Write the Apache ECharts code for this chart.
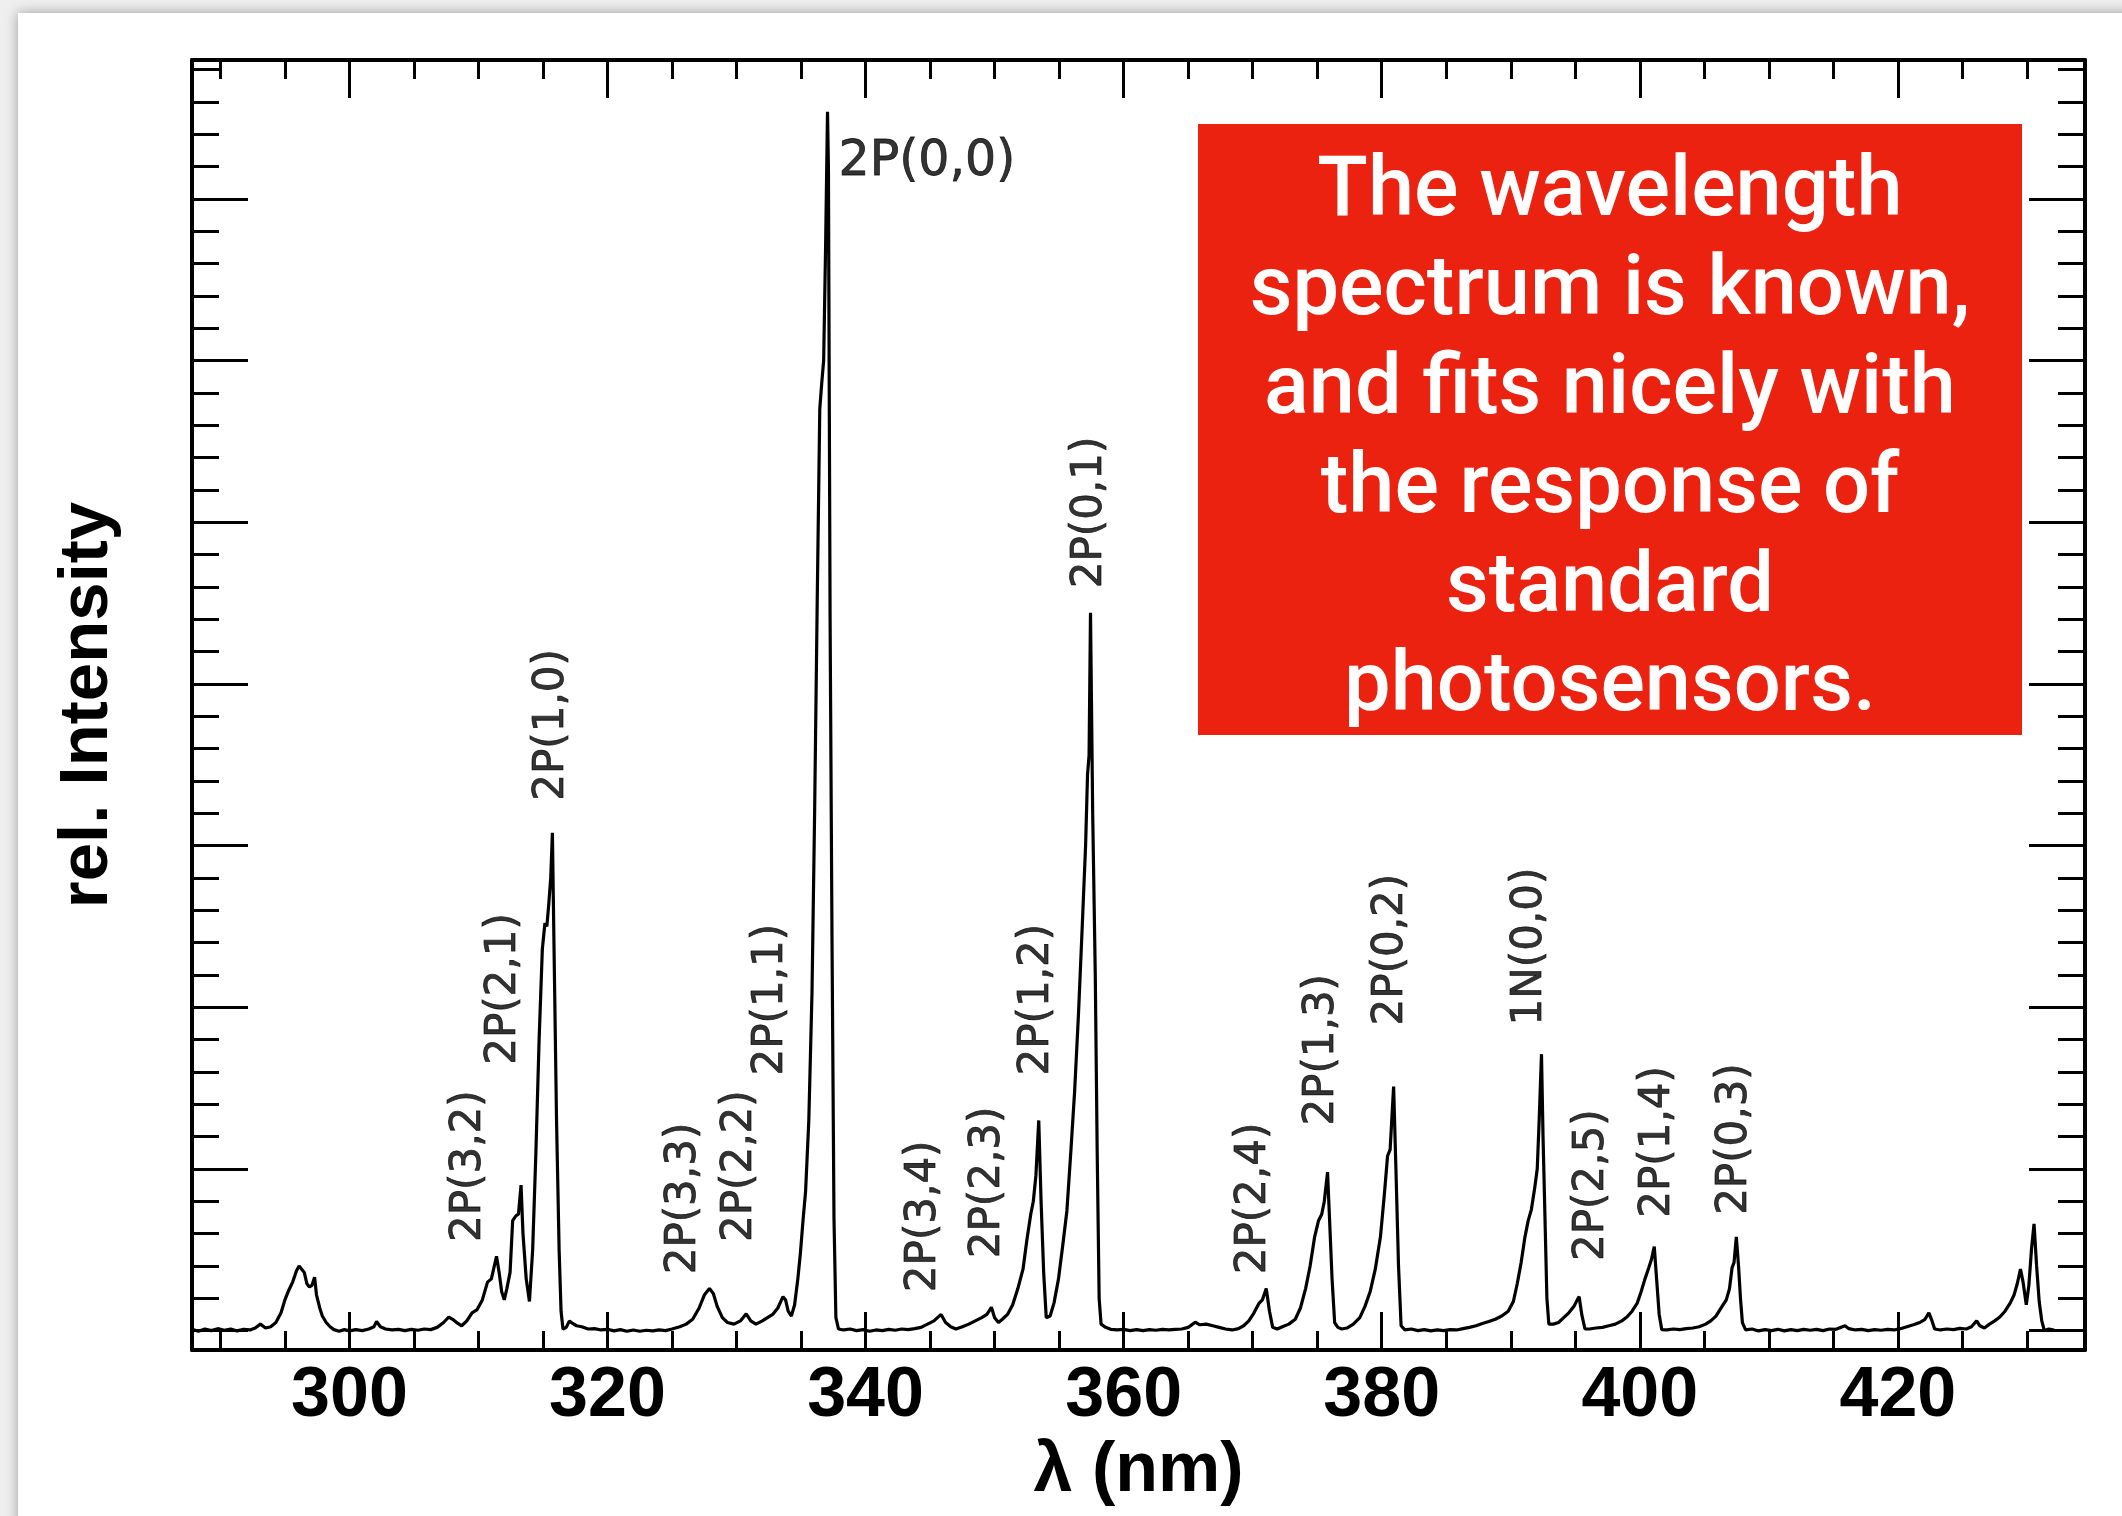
<!DOCTYPE html>
<html>
<head>
<meta charset="utf-8">
<title>N2 emission spectrum</title>
<script src="https://cdn.jsdelivr.net/npm/echarts@6/dist/echarts.min.js"></script>
<style>
  html, body { margin: 0; padding: 0; background: #efefef; overflow: hidden; }
  #sheet { position: absolute; left: 18px; top: 13px; width: 2200px; height: 1600px; background: #fff; box-shadow: 0 0 12px rgba(0,0,0,0.35); }
  #chart { position: absolute; left: 0; top: 0; width: 2122px; height: 1516px; }
</style>
</head>
<body>
<div id="sheet"></div>
<div id="chart"></div>
<script>
// spectrum: wavelength (nm) and relative intensity (1 = one minor tick)
const wavelength = [
  287.8, 288.3, 288.8, 289.3, 289.8, 290.3, 290.8, 291.3, 291.8, 292.3, 292.7, 293.1, 293.5, 293.9, 294.3, 294.7,
  295.0, 295.3, 295.6, 295.9, 296.1, 296.3, 296.5, 296.7, 296.9, 297.1, 297.3, 297.45, 297.7, 297.9, 298.2, 298.5,
  298.8, 299.2, 299.6, 300.0, 300.5, 301.0, 301.5, 301.9, 302.1, 302.4, 302.8, 303.3, 303.8, 304.3, 304.8, 305.3,
  305.8, 306.3, 306.8, 307.3, 307.7, 308.0, 308.4, 308.7, 309.1, 309.5, 309.9, 310.3, 310.7, 311.0, 311.4, 311.6,
  311.8, 312.0, 312.2, 312.45, 312.65, 312.9, 313.1, 313.3, 313.45, 313.7, 313.95, 314.2, 314.45, 314.7, 314.95, 315.15,
  315.3, 315.45, 315.6, 315.73, 315.85, 316.05, 316.25, 316.4, 316.55, 316.8, 317.05, 317.3, 317.6, 318.0, 318.5, 319.0,
  319.5, 320.0, 320.5, 321.0, 321.5, 322.0, 322.5, 323.0, 323.5, 324.0, 324.5, 325.0, 325.6, 326.1, 326.6, 327.1,
  327.5, 327.9, 328.2, 328.5, 328.9, 329.3, 329.8, 330.3, 330.75, 331.1, 331.5, 332.0, 332.4, 332.8, 333.2, 333.6,
  333.8, 334.0, 334.25, 334.5, 334.75, 334.95, 335.15, 335.35, 335.6, 335.85, 336.05, 336.25, 336.45, 336.6, 336.75, 336.9,
  337.05, 337.12, 337.25, 337.4, 337.55, 337.7, 337.9, 338.3, 338.8, 339.3, 339.8, 340.3, 340.8, 341.3, 341.8, 342.3,
  342.8, 343.3, 343.8, 344.3, 344.8, 345.3, 345.85, 346.2, 346.6, 347.0, 347.5, 348.0, 348.5, 349.0, 349.4, 349.75,
  350.0, 350.3, 350.6, 351.0, 351.4, 351.8, 352.2, 352.5, 352.8, 353.0, 353.2, 353.42, 353.6, 353.8, 354.0, 354.3,
  354.6, 354.95, 355.3, 355.6, 355.9, 356.2, 356.5, 356.8, 357.05, 357.2, 357.32, 357.43, 357.6, 357.8, 357.95, 358.1,
  358.25, 358.6, 359.0, 359.5, 360.0, 360.5, 361.0, 361.5, 362.0, 362.5, 363.0, 363.5, 364.0, 364.5, 365.0, 365.55,
  365.9, 366.4, 366.9, 367.4, 367.9, 368.4, 368.9, 369.3, 369.7, 370.1, 370.5, 370.75, 371.05, 371.3, 371.55, 371.9,
  372.3, 372.8, 373.3, 373.7, 374.1, 374.45, 374.8, 375.1, 375.35, 375.55, 375.8, 375.95, 376.15, 376.35, 376.6, 376.9,
  377.3, 377.8, 378.3, 378.7, 379.1, 379.5, 379.9, 380.2, 380.45, 380.65, 380.92, 381.1, 381.3, 381.5, 381.8, 382.3,
  382.8, 383.3, 383.8, 384.3, 384.8, 385.3, 385.8, 386.3, 386.8, 387.3, 387.8, 388.3, 388.8, 389.3, 389.8, 390.2,
  390.5, 390.8, 391.1, 391.35, 391.6, 391.85, 392.05, 392.2, 392.38, 392.5, 392.65, 392.8, 392.95, 393.3, 393.7, 394.1,
  394.5, 394.9, 395.15, 395.3, 395.5, 395.75, 396.1, 396.6, 397.1, 397.6, 398.1, 398.6, 399.0, 399.4, 399.8, 400.1,
  400.4, 400.7, 400.9, 401.12, 401.3, 401.5, 401.7, 402.1, 402.6, 403.1, 403.6, 404.1, 404.6, 405.1, 405.5, 405.9,
  406.3, 406.7, 406.95, 407.15, 407.3, 407.48, 407.65, 407.8, 407.95, 408.2, 408.7, 409.2, 409.7, 410.2, 410.7, 411.2,
  411.7, 412.2, 412.7, 413.2, 413.7, 414.2, 414.7, 415.2, 415.7, 415.9, 416.2, 416.7, 417.2, 417.7, 418.2, 418.7,
  419.2, 419.7, 420.2, 420.7, 421.2, 421.7, 422.1, 422.4, 422.6, 422.85, 423.3, 423.8, 424.3, 424.8, 425.3, 425.7,
  426.1, 426.35, 426.7, 427.1, 427.5, 427.9, 428.3, 428.7, 429.0, 429.25, 429.5, 429.7, 429.95, 430.15, 430.35, 430.55,
  430.75, 430.95, 431.15, 431.35, 431.7, 432.1
];
const intensity = [
  0.04, -0.02, 0.05, 0.0, 0.06, 0.01, 0.05, -0.01, 0.04, 0.02, 0.08, 0.2, 0.08, 0.12, 0.25, 0.55,
  0.95, 1.25, 1.5, 1.85, 2.0, 1.9, 1.8, 1.45, 1.35, 1.4, 1.65, 1.1, 0.7, 0.45, 0.25, 0.12,
  0.03, -0.02, 0.03, -0.01, 0.03, 0.0, 0.05, 0.12, 0.28, 0.12, 0.05, 0.02, 0.04, 0.0, 0.04, 0.01,
  0.05, 0.03, 0.1, 0.25, 0.42, 0.35, 0.22, 0.15, 0.3, 0.55, 0.65, 0.95, 1.5, 1.6, 2.3, 1.8,
  1.2, 0.95, 1.3, 1.8, 3.4, 3.55, 3.6, 4.5, 3.0, 1.6, 0.9, 2.5, 5.5, 9.0, 11.8, 12.6,
  12.5, 13.2, 14.0, 15.4, 12.0, 6.5, 2.5, 0.6, 0.05, 0.1, 0.3, 0.22, 0.15, 0.12, 0.05, 0.06,
  0.02, 0.04, -0.01, 0.03, -0.02, 0.02, -0.02, 0.01, -0.01, 0.02, 0.0, 0.05, 0.12, 0.2, 0.35, 0.7,
  1.1, 1.3, 1.15, 0.75, 0.4, 0.25, 0.2, 0.3, 0.52, 0.3, 0.2, 0.3, 0.4, 0.5, 0.7, 1.05,
  0.95, 0.6, 0.45, 0.8, 1.6, 2.4, 3.4, 4.3, 6.5, 10.5, 16.0, 22.5, 28.5, 29.3, 30.0, 33.5,
  37.7, 36.0, 22.0, 12.0, 3.5, 0.4, 0.05, 0.02, 0.05, 0.0, 0.03, -0.02, 0.02, 0.0, 0.04, 0.01,
  0.05, 0.03, 0.06, 0.1, 0.2, 0.3, 0.5, 0.25, 0.12, 0.05, 0.12, 0.2, 0.3, 0.4, 0.5, 0.72,
  0.4, 0.25, 0.35, 0.5, 0.8, 1.3, 1.9, 2.8, 3.6, 4.0, 4.8, 6.5, 4.0, 1.8, 0.4, 0.45,
  0.85, 1.6, 2.7, 3.7, 5.5, 7.4, 9.8, 12.6, 15.0, 17.2, 17.8, 22.2, 16.0, 11.0, 5.5, 1.0,
  0.2, 0.1, 0.04, 0.02, 0.04, 0.0, 0.03, 0.0, 0.03, 0.01, 0.04, 0.02, 0.04, 0.05, 0.1, 0.26,
  0.18, 0.2, 0.15, 0.1, 0.05, 0.02, 0.06, 0.15, 0.3, 0.55, 0.85, 0.95, 1.3, 0.6, 0.1, 0.05,
  0.12, 0.2, 0.35, 0.7, 1.3, 2.0, 2.9, 3.4, 3.6, 4.0, 4.9, 3.5, 1.6, 0.25, 0.1, 0.05,
  0.08, 0.2, 0.4, 0.75, 1.2, 1.9, 2.9, 4.2, 5.4, 5.6, 7.55, 5.0, 2.0, 0.15, 0.02, 0.05,
  0.0, 0.03, -0.01, 0.02, 0.0, 0.03, 0.02, 0.06, 0.1, 0.15, 0.22, 0.28, 0.35, 0.45, 0.6, 0.9,
  1.45, 2.1, 2.9, 3.4, 3.75, 4.4, 5.0, 6.5, 8.55, 6.0, 3.5, 1.0, 0.2, 0.2, 0.25, 0.4,
  0.55, 0.75, 0.95, 1.05, 0.5, 0.05, 0.05, 0.08, 0.1, 0.15, 0.2, 0.3, 0.42, 0.6, 0.85, 1.2,
  1.6, 1.95, 2.2, 2.6, 1.6, 0.5, 0.03, 0.02, 0.05, 0.03, 0.06, 0.08, 0.12, 0.2, 0.3, 0.45,
  0.7, 0.95, 1.3, 1.95, 2.1, 2.9, 2.0, 1.0, 0.25, 0.02, 0.05, -0.01, 0.03, 0.0, 0.04, -0.01,
  0.03, 0.0, 0.04, 0.01, 0.04, 0.0, 0.05, 0.04, 0.12, 0.15, 0.06, 0.02, 0.04, 0.0, 0.03, 0.01,
  0.04, 0.02, 0.06, 0.12, 0.18, 0.25, 0.35, 0.55, 0.35, 0.05, 0.02, 0.05, 0.03, 0.07, 0.05, 0.12,
  0.3, 0.15, 0.08, 0.2, 0.3, 0.42, 0.6, 0.85, 1.1, 1.45, 1.9, 1.5, 0.8, 1.4, 2.5, 3.3,
  2.0, 0.9, 0.3, 0.0, 0.05, 0.02
];

// band labels: name, wavelength where the text starts, height where the text starts
const peakNames = ['2P(3,2)', '2P(2,1)', '2P(1,0)', '2P(3,3)', '2P(2,2)', '2P(1,1)', '2P(0,0)', '2P(3,4)', '2P(2,3)',
  '2P(1,2)', '2P(0,1)', '2P(2,4)', '2P(1,3)', '2P(0,2)', '1N(0,0)', '2P(2,5)', '2P(1,4)', '2P(0,3)'];
const peakX = [309.3, 312.0, 315.7, 325.9, 330.3, 332.7, 337.9, 344.5, 349.5,
  353.3, 357.4, 370.1, 375.4, 380.7, 391.5, 396.3, 401.4, 407.4];
const peakY = [2.74, 8.22, 16.39, 1.74, 2.74, 7.89, 36.14, 1.19, 2.24,
  7.89, 22.96, 1.74, 6.34, 9.44, 9.44, 2.15, 3.49, 3.58];

const xMajorTicks = [300, 320, 340, 360, 380, 400, 420];
const xMinorTicks = [290, 295, 305, 310, 315, 325, 330, 335, 345, 350, 355, 365, 370, 375, 385, 390, 395, 405, 410, 415, 425, 430];
const yMajorTicks = [0, 5, 10, 15, 20, 25, 30, 35];
const yMinorTicks = [1, 2, 3, 4, 6, 7, 8, 9, 11, 12, 13, 14, 16, 17, 18, 19, 21, 22, 23, 24, 26, 27, 28, 29, 31, 32, 33, 34, 36, 37, 38, 39];

const boxLines = ['The wavelength', 'spectrum is known,', 'and fits nicely with', 'the response of', 'standard', 'photosensors.'];

const xMin = 287.8, xMax = 434.5;
const yMin = -0.6, yMax = 39.3;

const chart = echarts.init(document.getElementById('chart'));

function xAxisOf(position, ticks, len, withLine) {
  return {
    type: 'value', position: position, min: xMin, max: xMax,
    axisLine: {show: withLine, onZero: false, lineStyle: {color: '#000', width: 4}},
    axisTick: {show: true, inside: true, length: len, customValues: ticks, lineStyle: {color: '#000', width: 3}},
    axisLabel: {show: false},
    splitLine: {show: false}
  };
}
function yAxisOf(position, ticks, len, withLine) {
  return {
    type: 'value', position: position, min: yMin, max: yMax,
    axisLine: {show: withLine, onZero: false, lineStyle: {color: '#000', width: 4}},
    axisTick: {show: true, inside: true, length: len, customValues: ticks, lineStyle: {color: '#000', width: 3}},
    axisLabel: {show: false},
    splitLine: {show: false}
  };
}

let xBottom = xAxisOf('bottom', xMajorTicks, 38, true);
xBottom.axisLabel = {
  show: true, customValues: xMajorTicks, margin: 12,
  fontFamily: 'Liberation Sans', fontWeight: 'bold', fontSize: 70, color: '#000'
};
xBottom.name = 'λ (nm)';
xBottom.nameLocation = 'middle';
xBottom.nameGap = 86;
xBottom.nameTextStyle = {fontFamily: 'Liberation Sans', fontWeight: 'bold', fontSize: 70, color: '#000'};

let yLeft = yAxisOf('left', yMajorTicks, 56, true);
yLeft.name = 'rel. Intensity';
yLeft.nameLocation = 'middle';
yLeft.nameGap = 70;
yLeft.nameTextStyle = {fontFamily: 'Liberation Sans', fontWeight: 'bold', fontSize: 69, color: '#000'};

let options = {
  animation: false,
  grid: {left: 192, top: 60, right: 37, bottom: 166},
  xAxis: [
    xBottom,
    xAxisOf('bottom', xMinorTicks, 19, false),
    xAxisOf('top', xMajorTicks, 38, true),
    xAxisOf('top', xMinorTicks, 19, false)
  ],
  yAxis: [
    yLeft,
    yAxisOf('left', yMinorTicks, 27, false),
    yAxisOf('right', yMajorTicks, 56, true),
    yAxisOf('right', yMinorTicks, 27, false)
  ],
  series: [
    {
      type: 'line', xAxisIndex: 0, yAxisIndex: 0, showSymbol: false, silent: true,
      lineStyle: {color: '#000', width: 3.2},
      data: wavelength.map((w, i) => [w, intensity[i]])
    },
    {
      type: 'scatter', xAxisIndex: 0, yAxisIndex: 0, symbolSize: 0, silent: true,
      data: peakNames.map((n, i) => ({
        name: n, value: [peakX[i], peakY[i]],
        label: n === '2P(0,0)' ? {rotate: 0, fontSize: 49} : {rotate: 90, fontSize: 42}
      })),
      label: {
        show: true, formatter: '{b}', position: 'inside', align: 'left', verticalAlign: 'middle',
        fontFamily: 'DejaVu Sans', color: '#000', textBorderColor: '#000', textBorderWidth: 0.8
      }
    }
  ],
  graphic: [
    {
      type: 'rect', z: 100,
      shape: {x: 1198, y: 124, width: 824, height: 611},
      style: {fill: '#ec2211'}
    },
    {
      type: 'text', z: 101, x: 1610, y: 442,
      style: {
        text: boxLines.join('\n'), fill: '#fff', align: 'center', verticalAlign: 'middle',
        font: '500 83px Roboto', lineHeight: 99
      }
    }
  ]
};
chart.setOption(options);
</script>
</body>
</html>
